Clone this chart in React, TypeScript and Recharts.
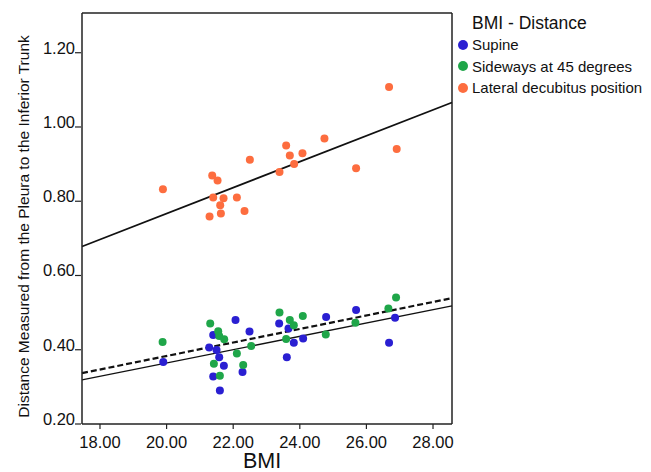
import { ScatterChart, Scatter, XAxis, YAxis, ReferenceLine, Label } from 'recharts'

const supineBmi = [19.9, 21.4, 21.28, 21.5, 21.58, 21.72, 21.4, 21.6, 22.07, 22.49, 22.28, 23.38, 23.66, 23.82, 24.1, 23.61, 24.79, 25.69, 26.86, 26.68]
const supineDist = [0.367, 0.44, 0.406, 0.399, 0.38, 0.357, 0.328, 0.29, 0.48, 0.449, 0.34, 0.471, 0.457, 0.419, 0.43, 0.38, 0.488, 0.507, 0.486, 0.419]

const sidewaysBmi = [19.88, 21.31, 21.55, 21.58, 21.73, 21.42, 21.6, 22.11, 22.3, 22.54, 23.39, 23.7, 23.82, 24.09, 23.59, 24.78, 25.67, 26.66, 26.89]
const sidewaysDist = [0.421, 0.471, 0.45, 0.437, 0.428, 0.362, 0.33, 0.39, 0.359, 0.41, 0.5, 0.48, 0.466, 0.491, 0.429, 0.441, 0.473, 0.511, 0.541]

const lateralBmi = [26.68, 26.91, 24.74, 23.59, 23.7, 24.08, 23.83, 23.39, 25.69, 22.5, 21.37, 21.53, 21.4, 21.71, 22.11, 21.61, 21.63, 21.29, 22.34, 19.89]
const lateralDist = [1.108, 0.941, 0.969, 0.95, 0.923, 0.929, 0.9, 0.879, 0.889, 0.912, 0.869, 0.856, 0.81, 0.808, 0.81, 0.789, 0.767, 0.759, 0.774, 0.832]

// fit lines, read at the left and right edges of the plot
const fitX = [17.46, 28.57]
const supineFit = [0.319, 0.518]
const sidewaysFit = [0.337, 0.539]
const lateralFit = [0.678, 1.066]

const xTicks = [18, 20, 22, 24, 26, 28]
const yTicks = [0.2, 0.4, 0.6, 0.8, 1.0, 1.2]
const xDomain = [17.46, 28.57]
const yDomain = [0.2, 1.307]

const BLUE = '#2a1fd2'
const GREEN = '#1fa649'
const ORANGE = '#fd6d3f'
const FONT = 'Arial, "Liberation Sans", Helvetica, sans-serif'

const toPoints = (xs: number[], ys: number[]) => xs.map((x, i) => ({ x, y: ys[i] }))
const segment = (ys: number[]) => [
  { x: fitX[0], y: ys[0] },
  { x: fitX[1], y: ys[1] },
]

const series = [
  { name: 'Supine', color: BLUE, data: toPoints(supineBmi, supineDist) },
  { name: 'Sideways at 45 degrees', color: GREEN, data: toPoints(sidewaysBmi, sidewaysDist) },
  { name: 'Lateral decubitus position', color: ORANGE, data: toPoints(lateralBmi, lateralDist) },
]

const Dot = (color: string) => (props: any) => <circle cx={props.cx} cy={props.cy} r={4} fill={color} />

const YTick = ({ x, y, payload }: any) => (
  <g>
    <line x1={x} x2={x + 6} y1={y} y2={y} stroke="#222" strokeWidth={1.2} />
    <text x={x} y={y + 1} textAnchor="end" fontSize={16.5} fill="#111" fontFamily={FONT}>
      {payload.value.toFixed(2)}
    </text>
  </g>
)

const XTick = ({ x, y, payload }: any) => (
  <text x={x} y={y + 17} textAnchor="middle" fontSize={16.5} fill="#111" fontFamily={FONT}>
    {payload.value.toFixed(2)}
  </text>
)

const YTitle = ({ viewBox }: any) => {
  const cx = 23
  const cy = viewBox.y + viewBox.height / 2 + 8
  return (
    <text
      x={cx}
      y={cy}
      transform={`rotate(-90 ${cx} ${cy})`}
      textAnchor="middle"
      dominantBaseline="central"
      fontSize={15.5}
      fill="#111"
      fontFamily={FONT}
    >
      Distance Measured from the Pleura to the Inferior Trunk
    </text>
  )
}

const LegendBox = () => (
  <div style={{ position: 'absolute', left: 458, top: 13, fontFamily: FONT, color: '#111' }}>
    <div style={{ fontSize: 17.5, marginLeft: 14, lineHeight: '21px' }}>BMI - Distance</div>
    {series.map((s) => (
      <div key={s.name} style={{ display: 'flex', alignItems: 'center', height: 21.5, fontSize: 15, whiteSpace: 'nowrap' }}>
        <span
          style={{ width: 10, height: 10, borderRadius: 5, background: s.color, display: 'inline-block', marginRight: 4 }}
        />
        {s.name}
      </div>
    ))}
  </div>
)

export default function App() {
  return (
    <div style={{ position: 'absolute', left: 0, top: 0, width: 651, height: 472, background: '#fff' }}>
      <ScatterChart width={651} height={472} margin={{ top: 13, right: 199, bottom: 0, left: 0 }}>
        <XAxis
          type="number"
          dataKey="x"
          domain={xDomain}
          ticks={xTicks}
          allowDataOverflow
          height={48}
          tick={<XTick />}
          tickLine={{ stroke: '#222', strokeWidth: 1.2 }}
          tickSize={5}
          axisLine={{ stroke: '#222', strokeWidth: 1.5 }}
          label={{ value: 'BMI', position: 'insideBottom', offset: 4, dx: -5, fontSize: 21.5, fill: '#111', fontFamily: FONT }}
        />
        <YAxis
          type="number"
          dataKey="y"
          domain={yDomain}
          ticks={yTicks}
          allowDataOverflow
          width={82}
          tick={<YTick />}
          tickLine={false}
          tickSize={5}
          axisLine={{ stroke: '#222', strokeWidth: 1.5 }}
        >
          <Label content={<YTitle />} />
        </YAxis>
        <ReferenceLine x={xDomain[1]} stroke="#222" strokeWidth={1.5} />
        <ReferenceLine y={yDomain[1]} stroke="#222" strokeWidth={1.5} />
        <ReferenceLine segment={segment(lateralFit)} stroke="#111" strokeWidth={1.8} />
        <ReferenceLine segment={segment(supineFit)} stroke="#111" strokeWidth={1.3} />
        <ReferenceLine segment={segment(sidewaysFit)} stroke="#111" strokeWidth={2.2} strokeDasharray="6 3" />
        {series.map((s) => (
          <Scatter
            key={s.name}
            name={s.name}
            data={s.data}
            fill={s.color}
            shape={Dot(s.color)}
            isAnimationActive={false}
          />
        ))}
      </ScatterChart>
      <LegendBox />
    </div>
  )
}
